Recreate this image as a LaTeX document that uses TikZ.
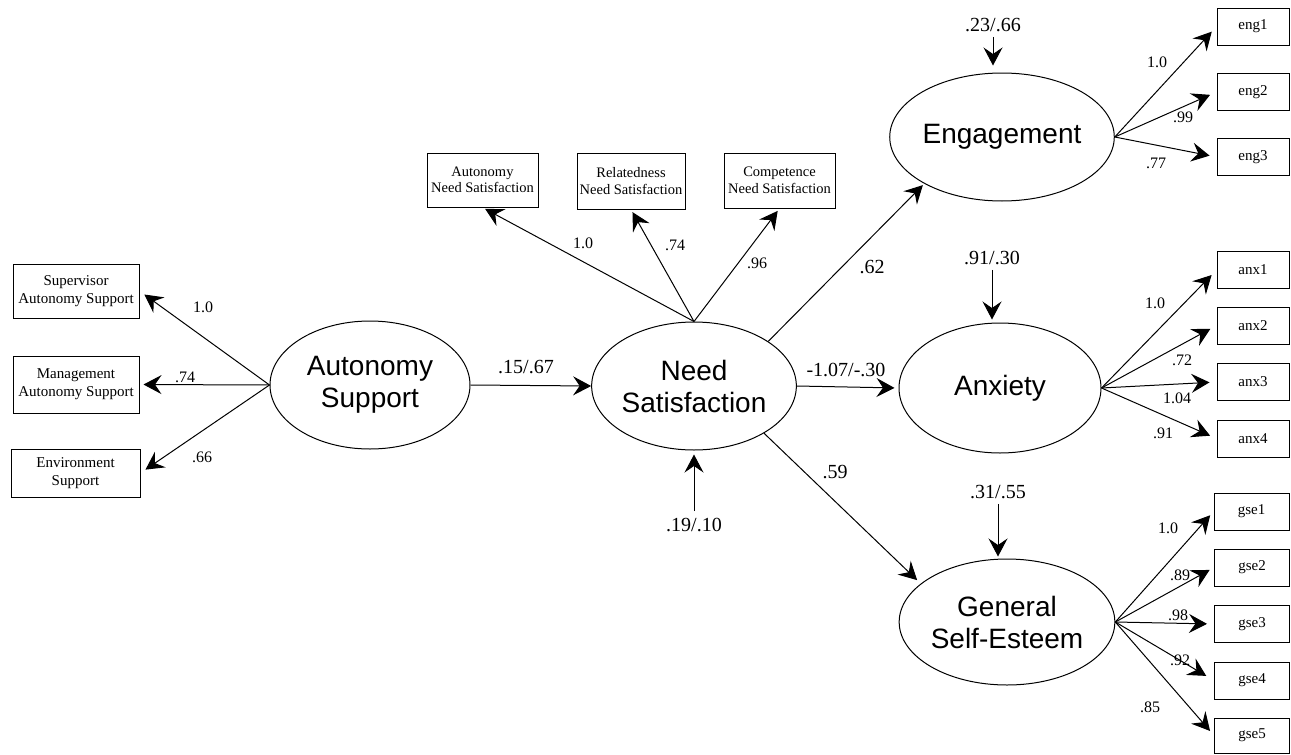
\documentclass[tikz,border=0pt]{standalone}
\usepackage{fontspec}
\setmainfont{Liberation Serif}
\newfontfamily\sansf{Liberation Sans}
\usetikzlibrary{shapes.geometric,arrows.meta}
\begin{document}
\begin{tikzpicture}[x=1pt,y=-1pt,
 lat/.style={ellipse,draw,line width=1pt,inner sep=0pt,minimum width=200pt,minimum height=128pt,align=center,font=\sansf\fontsize{28}{32}\selectfont},
 obs/.style={rectangle,draw,line width=1pt,inner sep=0pt,align=center,font=\fontsize{15}{18}\selectfont},
 obst/.style={obs,font=\fontsize{14.5}{16.5}\selectfont},
 obsr/.style={obs,minimum width=72pt,minimum height=37pt},
 lbl/.style={inner sep=0pt,font=\fontsize{16}{18}\selectfont},
 plbl/.style={inner sep=0pt,font=\fontsize{20}{22}\selectfont},
 arr/.style={line width=1pt,-{Stealth[length=18pt,width=19pt,inset=6.5pt]}}]
\useasboundingbox (0,0) rectangle (1291,755);

% latent variables
\node[lat] (as) at (370,385) {Autonomy\\Support};
\node[lat] (ns) at (694,386) {Need\\Satisfaction};
\node[lat] (eng) at (1002,137) {Engagement};
\node[lat,minimum width=202pt,minimum height=130pt] (anx) at (1000,388) {Anxiety};
\node[lat,minimum height=126pt] (gse) at (1007,622) {General\\Self-Esteem};

% left indicators
\node[obs,minimum width=126pt,minimum height=54pt] (sup) at (76,291) {Supervisor\\Autonomy Support};
\node[obs,minimum width=126pt,minimum height=57pt] (man) at (76,384.5) {Management\\Autonomy Support};
\node[obs,minimum width=129pt,minimum height=48pt] (env) at (75.5,473) {Environment\\Support};

% top indicators
\node[obst,minimum width=111pt,minimum height=54pt] (ans) at (482.5,180) {Autonomy\\Need Satisfaction};
\node[obst,minimum width=108pt,minimum height=56pt] (rns) at (631,181) {Relatedness\\Need Satisfaction};
\node[obst,minimum width=111pt,minimum height=55pt] (cns) at (779.5,180.5) {Competence\\Need Satisfaction};

% right indicators
\node[obsr] (e1) at (1253,26.5) {eng1};
\node[obsr] (e2) at (1253,92) {eng2};
\node[obsr] (e3) at (1253,157) {eng3};
\node[obsr] (a1) at (1253,270) {anx1};
\node[obsr] (a2) at (1253,325.5) {anx2};
\node[obsr] (a3) at (1253,382) {anx3};
\node[obsr] (a4) at (1253,438.5) {anx4};
\node[obsr,minimum width=75pt] (g1) at (1251.5,511.5) {gse1};
\node[obsr,minimum width=75pt] (g2) at (1252,567.5) {gse2};
\node[obsr,minimum width=75pt] (g3) at (1252,624) {gse3};
\node[obsr,minimum width=75pt] (g4) at (1252,680.5) {gse4};
\node[obsr,minimum width=75pt,minimum height=35pt] (g5) at (1252,735.5) {gse5};

% residual labels
\node[plbl] (resns) at (694,525) {.19/.10};
\node[plbl] (reseng) at (993,25) {.23/.66};
\node[plbl] (resanx) at (992,258) {.91/.30};
\node[plbl] (resgse) at (998,492) {.31/.55};

% arrows: autonomy support
\draw[arr,shorten >=6pt] (as.west) -- (sup.east);
\draw[arr,shorten >=4pt] (as.west) -- (man.east);
\draw[arr,shorten >=6pt] (as.west) -- (env.east);
\node[lbl] at (203,307) {1.0};
\node[lbl] at (185,377) {.74};
\node[lbl] at (202,457) {.66};

% as -> ns
\draw[arr] (as.east) -- (ns.west);
\node[plbl] at (526,367) {.15/.67};

% need satisfaction indicators
\draw[arr,shorten >=3pt] (ns.north) -- (ans.south);
\draw[arr,shorten >=3pt] (ns.north) -- (rns.south);
\draw[arr,shorten >=3pt] (ns.north) -- (cns.south);
\node[lbl] at (583,243) {1.0};
\node[lbl] at (675,245) {.74};
\node[lbl] at (757,263) {.96};

% structural paths
\draw[arr,shorten >=2pt] (ns.31) -- (eng.211);
\node[plbl] at (872,267) {.62};
\draw[arr,shorten >=4pt] (ns.east) -- (anx.west);
\node[plbl] at (846,370) {-1.07/-.30};
\draw[arr,shorten >=5pt] (ns.-34) -- (gse.156);
\node[plbl] at (835,472) {.59};

% residual arrows
\draw[arr,shorten <=7pt,shorten >=4pt] (resns) -- (resns |- ns.south);
\draw[arr,shorten <=5pt,shorten >=7pt] (reseng) -- (reseng |- eng.north);
\draw[arr,shorten <=5pt,shorten >=3pt] (resanx) -- (resanx |- anx.north);
\draw[arr,shorten <=5pt,shorten >=2pt] (resgse) -- (resgse |- gse.north);

% engagement indicators
\draw[arr,shorten >=7pt] (eng.east) -- (e1.west);
\draw[arr,shorten >=7pt] (eng.east) -- (e2.west);
\draw[arr,shorten >=7pt] (eng.east) -- (e3.west);
\node[lbl] at (1157,62) {1.0};
\node[lbl] at (1183,117) {.99};
\node[lbl] at (1156,163) {.77};

% anxiety indicators
\draw[arr,shorten >=7pt] (anx.east) -- (a1.west);
\draw[arr,shorten >=7pt] (anx.east) -- (a2.west);
\draw[arr,shorten >=7pt] (anx.east) -- (a3.west);
\draw[arr,shorten >=7pt] (anx.east) -- (a4.west);
\node[lbl] at (1155,303) {1.0};
\node[lbl] at (1182,360) {.72};
\node[lbl] at (1177,398) {1.04};
\node[lbl] at (1163,433) {.91};

% self-esteem indicators
\draw[arr,shorten >=5pt] (gse.east) -- (g1.west);
\draw[arr,shorten >=5pt] (gse.east) -- (g2.west);
\draw[arr,shorten >=7pt] (gse.east) -- (g3.west);
\draw[arr,shorten >=9pt] (gse.east) -- (g4.west);
\draw[arr,shorten >=6pt] (gse.east) -- (g5.west);
\node[lbl] at (1168,528) {1.0};
\node[lbl] at (1180,575) {.89};
\node[lbl] at (1178,615) {.98};
\node[lbl] at (1180,660) {.92};
\node[lbl] at (1150,707) {.85};
\end{tikzpicture}
\end{document}
